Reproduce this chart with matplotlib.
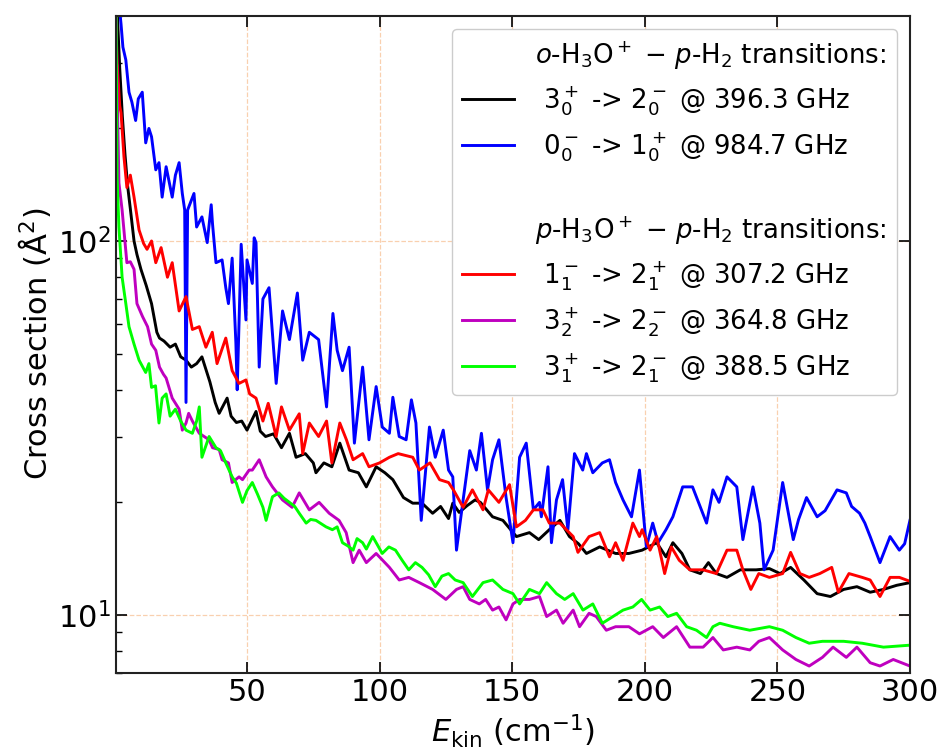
import matplotlib.pyplot as plt
from matplotlib.ticker import LogLocator, NullFormatter

# o-H3O+ : 3_0^+ -> 2_0^-  (black)
x_black = [0.5, 1, 2, 3, 4, 5, 6, 7.4, 8.5, 10, 12, 14, 16, 17, 18.7, 21, 23, 25, 27, 29,
           31, 33, 36, 38, 39.5, 42.5, 44, 46, 48, 50, 53.4, 55, 57, 60, 63, 66, 68.5, 72,
           75, 76, 79, 82, 85, 88.5, 92, 95, 98.7, 102, 105, 109, 112.5, 116, 120, 123,
           126, 127.6, 130, 133, 136, 138, 142.6, 146.5, 151.6, 156.5, 160, 164, 168,
           171.6, 175, 178, 183, 189, 194, 199, 204.5, 208, 210.6, 214, 217, 221, 224,
           227, 231, 236, 242, 247, 251, 255, 260, 265, 270, 275, 280, 285, 290, 295, 300]
y_black = [600, 420, 290, 215, 170, 140, 122, 100, 92, 84, 76, 68, 57, 55, 54, 52, 53, 49,
           48, 46, 47, 49, 42, 37, 34.6, 38, 34, 32.7, 33, 31.2, 35, 31, 30, 30.5, 28, 30.6,
           26.4, 27, 25.5, 24, 25.5, 24.9, 28.8, 24.4, 24, 22, 24.9, 24, 23, 20.6, 19.9,
           19.9, 18.7, 19.5, 18.1, 19.9, 18.8, 19.6, 20.3, 20, 18.3, 17.9, 16.2, 16.6, 15.9,
           16.9, 17.9, 16.2, 15.5, 14.6, 15.2, 14.6, 14.6, 14.9, 15.6, 14.3, 15.6, 14.6,
           13.2, 12.9, 13.8, 12.9, 12.6, 13.2, 13.2, 13.3, 12.9, 13.4, 12.4, 11.4, 11.2,
           11.7, 11.9, 11.5, 11.7, 12.0, 12.2]

# o-H3O+ : 0_0^- -> 1_0^+  (blue)
x_blue = [0.5, 1.5, 2.5, 3.2, 4.3, 5.5, 6.6, 8, 9, 10.5, 11.8, 13, 14, 15.6, 16.8, 18, 19.5,
          21.8, 23, 24.4, 25.6, 26.5, 27, 27.6, 30, 31, 33, 35, 36.5, 37, 38.3, 40.6, 42,
          43, 44.4, 45.8, 46.3, 47.8, 49.6, 50, 52, 52.7, 53.4, 54.6, 56, 58.3, 61, 63.4,
          66, 69, 71, 73.5, 77, 80, 82.4, 84, 86, 88.5, 90.5, 93.6, 96, 98.7, 101, 103.7,
          105, 107.4, 110, 112, 113.7, 115.7, 118.8, 121, 124, 126, 127.6, 129, 131.5, 134,
          136.5, 138.4, 140.7, 142.6, 145, 147.7, 150.3, 152.8, 155.3, 158, 160.3, 161,
          163.5, 164.8, 166.7, 169, 171, 173.5, 176.6, 178, 180.4, 184, 186.7, 189, 191.8,
          195, 198, 200.6, 203, 205, 208, 210.6, 214.3, 218, 221, 223.3, 225.7, 228, 231,
          234.7, 237, 240.8, 243.4, 245, 248.4, 252, 256, 258, 261, 265, 268, 272.5, 276,
          278, 281, 283, 285, 288.7, 292.5, 296, 298, 300]
y_blue = [600, 450, 380, 330, 305, 250, 235, 210, 240, 250, 183, 200, 190, 155, 162, 131, 158,
          131, 150, 162, 134, 121, 37, 121, 134, 109, 116, 99, 125, 111, 87.5, 89, 75, 68,
          90, 53.5, 40, 98, 61.5, 89, 77, 102, 99, 46, 70, 75, 41.6, 65, 54.5, 72.6, 48, 57,
          54.5, 36, 64, 51, 45, 52, 28.8, 46, 29.4, 40.8, 31.8, 30.6, 38.2, 30, 29.4, 37.6,
          32.6, 17.9, 31.8, 26.4, 31.2, 24.4, 23.4, 14.9, 20.3, 27.5, 24.4, 30.6, 21.6, 26,
          29.4, 20.6, 15.6, 26.4, 28.8, 19.1, 20, 18.3, 24.9, 15.6, 20.3, 23, 16.9, 27, 24.4,
          27, 24, 25.5, 26, 22.6, 20.3, 18.3, 24.4, 15.2, 17.6, 15.6, 16.9, 18.3, 22, 22,
          19.4, 17.6, 21.6, 20, 23.4, 22, 15.9, 22, 17.6, 13.2, 14.9, 22.6, 15.9, 18, 20.6,
          18.3, 19, 21.6, 21.2, 19.5, 18.7, 17.6, 16.2, 13.8, 16.2, 14.9, 15.5, 17.9]

# p-H3O+ : 1_1^- -> 2_1^+  (red)
x_red = [0.5, 1, 2, 2.5, 3.6, 4.7, 6, 7.4, 9.3, 11, 12.3, 14, 15.6, 17.6, 20, 21.8, 24.4, 27,
         29.4, 32, 34.5, 36.9, 38.7, 42, 44.4, 47, 49.6, 51, 53.4, 56, 58, 61, 63, 66, 69.7,
         71, 73.5, 77, 80, 82, 85, 87.5, 90, 93.6, 96, 100, 103.7, 107, 112.5, 115, 119,
         122.6, 126, 128, 131.5, 135, 139, 141, 145, 149, 151.6, 155, 158, 161.6, 164, 168,
         173, 174.8, 179, 183, 186.7, 189, 191.8, 195.5, 198, 199, 202, 204.5, 207.5, 210,
         213, 217, 222, 227, 231, 234.7, 237, 240, 243, 247, 252, 255, 258.5, 262, 266,
         270.5, 273, 277, 282, 285, 288.7, 292.5, 296, 300]
y_red = [400, 300, 230, 220, 168, 139, 150, 131, 107, 98.5, 95, 100, 87.5, 96, 80, 87.5, 65,
         71, 58, 59, 52, 57, 47, 55, 45, 41.6, 42.5, 39, 38, 33, 36.8, 30, 36, 31.2, 34.5,
         27, 32.6, 30, 33, 25.5, 32.6, 29.4, 26, 27, 24.9, 25.5, 26.4, 27, 26.4, 24.4, 25.5,
         23, 22.6, 21.5, 19.4, 21.6, 19.1, 21.6, 20, 22.3, 17.2, 17.9, 19.1, 19.1, 17.6,
         17.6, 16.2, 14.7, 16.2, 16.6, 14.3, 15.6, 14, 17.6, 16.2, 16.9, 14.9, 16.2, 12.9,
         15.2, 14, 13.2, 13.2, 12.9, 14.9, 14.9, 13.2, 11.7, 12.9, 12.6, 12.9, 14.7, 12.9,
         12.6, 12.9, 13.4, 11.5, 12.9, 12.6, 12.4, 11.2, 12.6, 12.6, 12.3]

# p-H3O+ : 3_2^+ -> 2_2^-  (magenta)
x_mag = [0.5, 1, 1.7, 2.9, 4.7, 6, 7.4, 8.5, 10.6, 12.5, 14, 15.6, 17, 18.5, 19.5, 21.8,
         24.4, 25.6, 27, 28, 29.4, 32, 35.7, 37, 39.5, 40.6, 43, 44.4, 47, 48.3, 50.8, 52,
         54.6, 57.2, 59.6, 63.4, 67, 69.7, 73.5, 77.2, 81, 84.7, 87.4, 90, 92.3, 95, 98.7,
         103.7, 107.4, 111, 115, 120, 125, 129, 131.5, 134, 137.6, 140, 142.6, 145, 147.7,
         150.3, 152.8, 156.5, 160.3, 163, 166.7, 169.2, 173, 175.4, 179, 181.7, 185.5, 189,
         194, 198, 203, 207, 212, 217, 222, 225.7, 229.6, 234.7, 239.6, 243, 247, 252, 257,
         262, 267, 271, 276, 280, 285, 288.7, 293.7, 300]
y_mag = [500, 260, 143, 121, 87.5, 88, 84, 68, 62.8, 59, 53, 51, 46, 44, 43, 38, 35.5, 31.2,
         32.6, 34.6, 33, 30.6, 29.4, 28, 27.7, 26, 25.5, 22.6, 23.4, 23, 24.4, 24.4, 26, 23.4,
         22, 20.3, 19.4, 21.2, 19.1, 20, 18.7, 17.9, 16.6, 13.8, 14.9, 13.8, 14.6, 13.4,
         12.4, 12.6, 12.2, 11.7, 11, 11.7, 11.9, 11, 10.7, 11, 10.3, 10.5, 9.7, 10.7, 11, 11,
         11.2, 9.9, 10.3, 9.5, 10.3, 9.3, 10.1, 9.9, 9.1, 9.3, 9.3, 8.9, 9.3, 8.7, 9.3, 8.2,
         8.2, 8.7, 8.06, 8.2, 8.06, 8.5, 8.7, 8.06, 7.6, 7.3, 7.7, 8.2, 7.7, 8.2, 7.45, 7.3,
         7.6, 7.3]

# p-H3O+ : 3_1^+ -> 2_1^-  (green)
x_green = [0.5, 1, 1.7, 2.9, 4.3, 5.5, 7.4, 9.3, 11.8, 13, 14, 15.5, 16.8, 18, 19.5, 21, 23,
           25, 27, 29.4, 31, 32, 33, 35.7, 38.3, 40, 42, 44.4, 46, 48.3, 50, 52, 54, 56, 57.2,
           59.6, 62, 64, 66, 68, 69.7, 72.3, 74, 76, 79.8, 82.2, 84, 86, 88, 90, 91.5, 93.6,
           95, 97.4, 101, 103.5, 106, 108.5, 111, 113.5, 116, 118.5, 121, 123.5, 126, 128.5,
           131.5, 135, 139, 142.6, 146.5, 150.3, 152.8, 156.5, 160.3, 163, 166.7, 169.8, 173,
           176.7, 180.4, 184, 188, 191.8, 195.5, 198.8, 202, 205.6, 208.7, 212, 215.8, 219.5,
           223.3, 225.7, 228.3, 233.3, 239.6, 247, 252, 257, 262, 267, 275, 282, 290, 300]
y_green = [600, 148, 109, 80, 68, 59, 53, 48, 44.5, 47, 40.6, 41, 32.6, 38, 39, 34, 35.5, 33,
           31.2, 30.6, 33, 36, 26.4, 30, 28, 27.5, 25.5, 23.4, 22.5, 20, 21.5, 22.6, 21, 19.4,
           17.9, 20.7, 21.2, 20.5, 20, 19.5, 18.7, 17.6, 18, 17.9, 17.2, 16.9, 17.2, 15.6,
           15.3, 14.9, 16, 15.6, 15, 16.2, 14.6, 15.2, 14.9, 14, 13.2, 13.8, 13.4, 12.8, 11.9,
           12.7, 12.9, 12.4, 12.2, 11.2, 12.2, 12.4, 11.7, 11.4, 10.7, 11.7, 11.4, 12.2, 11.4,
           11, 11.4, 10.3, 10.7, 9.5, 9.9, 10.3, 10.5, 11, 10.3, 10.5, 9.9, 10.1, 9.3, 9.1,
           8.7, 9.3, 9.5, 9.3, 9.1, 9.3, 9.1, 8.7, 8.4, 8.5, 8.5, 8.4, 8.2, 8.3]

header_o = r'$o$-H$_3$O$^+$ $-$ $p$-H$_2$ transitions:'
header_p = r'$p$-H$_3$O$^+$ $-$ $p$-H$_2$ transitions:'
labels = [r' $3_0^+$ -> $2_0^-$ @ 396.3 GHz',
          r' $0_0^-$ -> $1_0^+$ @ 984.7 GHz',
          r' $1_1^-$ -> $2_1^+$ @ 307.2 GHz',
          r' $3_2^+$ -> $2_2^-$ @ 364.8 GHz',
          r' $3_1^+$ -> $2_1^-$ @ 388.5 GHz']

fig, ax = plt.subplots(figsize=(9.41, 7.56), dpi=100)
fig.subplots_adjust(left=0.123, right=0.967, top=0.979, bottom=0.110)

lw = 2.1
ax.plot([], [], ' ', label=header_o)
ax.plot(x_black, y_black, color='k', lw=lw, label=labels[0])
ax.plot(x_blue, y_blue, color='b', lw=lw, label=labels[1])
ax.plot([], [], ' ', label=' ')
ax.plot([], [], ' ', label=header_p)
ax.plot(x_red, y_red, color='r', lw=lw, label=labels[2])
ax.plot(x_mag, y_mag, color='m', lw=lw, label=labels[3])
ax.plot(x_green, y_green, color='lime', lw=lw, label=labels[4])

ax.set_yscale('log')
ax.set_xlim(0.5, 300)
ax.set_ylim(7, 400)
ax.set_xticks([50, 100, 150, 200, 250, 300])
ax.yaxis.set_minor_locator(LogLocator(base=10, subs=range(2, 10)))
ax.yaxis.set_minor_formatter(NullFormatter())

ax.grid(True, which='major', color='#f5b27a', ls='--', lw=0.9, alpha=0.6)
ax.tick_params(which='major', direction='in', length=8, width=1.2,
               top=True, right=True, labelsize=22)
ax.tick_params(which='minor', direction='in', length=4, width=1.0, right=False)
for s in ax.spines.values():
    s.set_linewidth(1.5)
    s.set_color('#222222')

ax.set_xlabel(r'$E_{\rm kin}$ (cm$^{-1}$)', fontsize=22)
ax.set_ylabel(r'Cross section (Å$^2$)', fontsize=22)

ax.legend(loc='upper right', fontsize=18.7, framealpha=1.0, edgecolor='#cccccc',
          handlelength=2.0, handletextpad=0.8, labelspacing=0.47)

plt.savefig('out.png')
